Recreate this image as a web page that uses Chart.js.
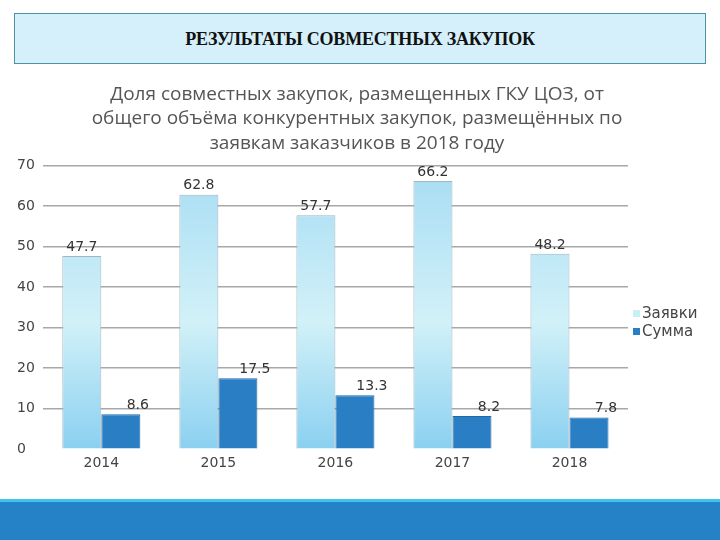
<!DOCTYPE html>
<html>
<head>
<meta charset="utf-8">
<script src="https://cdn.jsdelivr.net/npm/chart.js@4"></script>
<style>
  body { margin: 0; width: 720px; height: 540px; background: #fff; position: relative; overflow: hidden; }
  #head { position: absolute; left: 14px; top: 13px; width: 690px; height: 49px; background: #d5f0fa; border: 1px solid #4f91a8;
          font: bold 18px "Liberation Serif", serif; color: #111; text-align: center; line-height: 51px; letter-spacing: -0.2px; }
  #wrap { position: absolute; left: 0; top: 70px; width: 720px; height: 410px; }
  #band { position: absolute; left: 0; top: 499px; width: 720px; height: 41px; background: #2582c6; border-top: 3px solid #3ec3ee; }
  #legend { position: absolute; left: 633px; top: 304px; font: 15px "DejaVu Sans", sans-serif; color: #444; }
  #legend div { height: 18px; line-height: 18px; }
  #legend span { display: inline-block; width: 7px; height: 7px; margin-right: 2px; vertical-align: 1px; }
</style>
</head>
<body>
<div id="head">РЕЗУЛЬТАТЫ СОВМЕСТНЫХ ЗАКУПОК</div>
<div id="wrap"><canvas id="chart"></canvas></div>
<div id="legend">
  <div><span style="background:#c8eef7"></span>Заявки</div>
  <div><span style="background:#2a7fc4"></span>Сумма</div>
</div>
<div id="band"></div>
<script>
const years = ['2014', '2015', '2016', '2017', '2018'];
const zayavki = [47.7, 62.8, 57.7, 66.2, 48.2];
const summa = [8.6, 17.5, 13.3, 8.2, 7.8];
const titleLines = [
  'Доля совместных закупок, размещенных ГКУ ЦОЗ, от',
  'общего объёма конкурентных закупок, размещённых по',
  'заявкам заказчиков в 2018 году'
];

function lightGradient(ctx) {
  const area = ctx.chart.chartArea;
  if (!area) return '#b5e3f5';
  const g = ctx.chart.ctx.createLinearGradient(0, area.top, 0, area.bottom);
  g.addColorStop(0, '#a6dcf3');
  g.addColorStop(0.55, '#d2f1f8');
  g.addColorStop(1, '#8ad0f0');
  return g;
}

// value labels above bars (the dark series labels sit a little to the right)
const valueLabels = {
  id: 'valueLabels',
  afterDatasetsDraw(chart) {
    const c = chart.ctx;
    c.save();
    c.font = '14px "DejaVu Sans", sans-serif';
    c.fillStyle = '#333';
    c.textAlign = 'center';
    c.textBaseline = 'bottom';
    chart.data.datasets.forEach((ds, i) => {
      chart.getDatasetMeta(i).data.forEach((bar, j) => {
        const dx = i === 1 ? 17 : 0;
        c.fillText(ds.data[j].toFixed(1), bar.x + dx, bar.y - 2);
      });
    });
    c.restore();
  }
};

new Chart(document.getElementById('chart'), {
  type: 'bar',
  data: {
    labels: years,
    datasets: [
      { label: 'Заявки', data: zayavki, backgroundColor: lightGradient, borderColor: '#9fb7c2', borderWidth: 1 },
      { label: 'Сумма', data: summa, backgroundColor: '#2a7fc4', borderColor: '#1f6aa6', borderWidth: 1 }
    ]
  },
  options: {
    responsive: true,
    maintainAspectRatio: false,
    animation: false,
    layout: { padding: { left: 17, right: 23, top: 0, bottom: 2 } },
    datasets: { bar: { categoryPercentage: 0.667, barPercentage: 1 } },
    plugins: {
      legend: { display: false },
      tooltip: { enabled: false },
      title: {
        display: true,
        text: titleLines,
        color: '#555',
        font: { family: '"Open Sans", sans-serif', size: 19, weight: 'normal', lineHeight: 1.29 },
        padding: { top: 12, bottom: 10 }
      }
    },
    scales: {
      x: {
        grid: { display: false, drawTicks: false },
        border: { display: false },
        ticks: { color: '#444', font: { family: '"DejaVu Sans", sans-serif', size: 14 }, padding: 6 }
      },
      y: {
        min: 0, max: 70,
        ticks: { stepSize: 10, color: '#444', crossAlign: 'far', padding: 4, font: { family: '"DejaVu Sans", sans-serif', size: 14 } },
        grid: { color: ctx => ctx.tick && ctx.tick.value === 0 ? 'rgba(0,0,0,0)' : '#a8a8a8', lineWidth: 1.5, drawTicks: false },
        border: { display: false }
      },
      // empty right-hand axis: keeps room for the legend
      side: {
        position: 'right',
        grid: { display: false },
        border: { display: false },
        ticks: { display: false },
        afterFit(scale) { scale.width = 69; }
      }
    }
  },
  plugins: [valueLabels]
});
</script>
</body>
</html>
